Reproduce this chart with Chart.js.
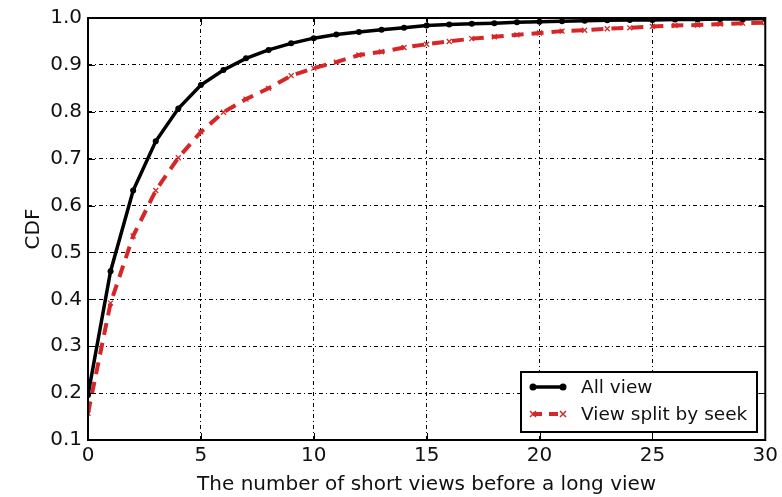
<!DOCTYPE html>
<html>
<head>
<meta charset="utf-8">
<script src="https://cdn.jsdelivr.net/npm/chart.js@4/dist/chart.umd.min.js"></script>
<style>
  html, body { margin: 0; padding: 0; background: #fff; }
  #wrap { width: 782px; height: 497px; }
</style>
</head>
<body>
<div id="wrap"><canvas id="cdf"></canvas></div>
<script>
// short views before a long view, 0..30
const views = [0, 1, 2, 3, 4, 5, 6, 7, 8, 9, 10, 11, 12, 13, 14, 15, 16, 17, 18, 19, 20,
               21, 22, 23, 24, 25, 26, 27, 28, 29, 30];
const allView = [0.196, 0.46, 0.632, 0.737, 0.807, 0.857, 0.889, 0.914, 0.932, 0.946, 0.957,
                 0.965, 0.970, 0.975, 0.979, 0.984, 0.986, 0.988, 0.989, 0.991, 0.992,
                 0.993, 0.994, 0.995, 0.996, 0.996, 0.997, 0.997, 0.998, 0.998, 0.999];
const splitView = [0.157, 0.392, 0.535, 0.632, 0.702, 0.757, 0.799, 0.827, 0.850, 0.877, 0.893,
                   0.906, 0.921, 0.928, 0.937, 0.944, 0.950, 0.956, 0.960, 0.964, 0.968,
                   0.972, 0.974, 0.977, 0.979, 0.982, 0.984, 0.985, 0.987, 0.989, 0.990];
const seriesNames = ['All view', 'View split by seek'];
const xTicks = [0, 5, 10, 15, 20, 25, 30];
const yTicks = [0.1, 0.2, 0.3, 0.4, 0.5, 0.6, 0.7, 0.8, 0.9, 1.0];

Chart.defaults.font.family = "'DejaVu Sans', sans-serif";
Chart.defaults.color = '#111';

const toPoints = ys => views.map((v, i) => ({ x: v, y: ys[i] }));

// frame, inward ticks and the legend box in the lower right
const decorations = {
  id: 'decorations',
  afterDatasetsDraw(chart) {
    const { ctx, chartArea: a, scales: { x, y } } = chart;
    ctx.save();
    ctx.strokeStyle = '#000';
    ctx.lineWidth = 1;
    ctx.setLineDash([]);
    ctx.beginPath();
    xTicks.forEach(t => {
      const px = Math.round(x.getPixelForValue(t)) + 0.5;
      ctx.moveTo(px, a.bottom); ctx.lineTo(px, a.bottom - 7);
      ctx.moveTo(px, a.top); ctx.lineTo(px, a.top + 7);
    });
    yTicks.forEach(t => {
      const py = Math.round(y.getPixelForValue(t)) + 0.5;
      ctx.moveTo(a.left, py); ctx.lineTo(a.left + 7, py);
      ctx.moveTo(a.right, py); ctx.lineTo(a.right - 7, py);
    });
    ctx.stroke();
    ctx.lineWidth = 2;
    ctx.strokeRect(a.left, a.top, a.right - a.left, a.bottom - a.top);

    // legend
    const bx = 521, by = 372, bw = 236, bh = 60;
    ctx.fillStyle = '#fff';
    ctx.fillRect(bx, by, bw, bh);
    ctx.lineWidth = 2;
    ctx.strokeRect(bx, by, bw, bh);
    chart.data.datasets.forEach((ds, i) => {
      const ly = by + 15 + i * 27;
      ctx.strokeStyle = ds.borderColor;
      ctx.lineWidth = ds.borderWidth;
      ctx.setLineDash(ds.borderDash ? [9, 7] : []);
      ctx.beginPath();
      ctx.moveTo(533, ly); ctx.lineTo(563, ly);
      ctx.stroke();
      ctx.setLineDash([]);
      [533, 563].forEach(mx => {
        if (ds.pointStyle === 'crossRot') {
          ctx.lineWidth = 1.5;
          ctx.beginPath();
          ctx.moveTo(mx - 3, ly - 3); ctx.lineTo(mx + 3, ly + 3);
          ctx.moveTo(mx - 3, ly + 3); ctx.lineTo(mx + 3, ly - 3);
          ctx.stroke();
        } else {
          ctx.fillStyle = ds.borderColor;
          ctx.beginPath();
          ctx.arc(mx, ly, 3.5, 0, Math.PI * 2);
          ctx.fill();
        }
      });
      ctx.fillStyle = '#111';
      ctx.font = "18.5px 'DejaVu Sans'";
      ctx.textBaseline = 'middle';
      ctx.fillText(ds.label, 581, ly + 1);
    });
    ctx.restore();
  }
};

new Chart(document.getElementById('cdf'), {
  type: 'line',
  data: {
    datasets: [
      {
        label: seriesNames[0],
        data: toPoints(allView),
        borderColor: '#000',
        backgroundColor: '#000',
        borderWidth: 3.5,
        pointStyle: 'circle',
        pointRadius: 3,
        pointBorderWidth: 0,
        tension: 0
      },
      {
        label: seriesNames[1],
        data: toPoints(splitView),
        borderColor: '#d62728',
        backgroundColor: '#d62728',
        borderWidth: 4,
        borderDash: [12, 8],
        pointStyle: 'crossRot',
        pointRadius: 3.5,
        pointBorderWidth: 1.3,
        tension: 0
      }
    ]
  },
  options: {
    responsive: true,
    maintainAspectRatio: false,
    animation: false,
    layout: { padding: { top: 17, right: 16, left: 0, bottom: 0 } },
    plugins: { legend: { display: false }, tooltip: { enabled: false } },
    scales: {
      x: {
        type: 'linear',
        min: 0,
        max: 30,
        afterBuildTicks: s => { s.ticks = xTicks.map(v => ({ value: v })); },
        afterFit: s => { s.height = 57; },
        ticks: { font: { size: 20 }, padding: 4, maxRotation: 0 },
        grid: { color: '#000', lineWidth: 1, drawTicks: false },
        border: { display: false, dash: [4, 3, 1, 3] },
        title: {
          display: true,
          text: 'The number of short views before a long view',
          font: { size: 20 },
          padding: { top: 0, bottom: 0 }
        }
      },
      y: {
        min: 0.1,
        max: 1.0,
        afterBuildTicks: s => { s.ticks = yTicks.map(v => ({ value: v })); },
        afterFit: s => { s.width = 88; },
        ticks: { font: { size: 20 }, padding: 6, callback: v => v.toFixed(1) },
        grid: { color: '#000', lineWidth: 1, drawTicks: false },
        border: { display: false, dash: [4, 3, 1, 3] },
        title: { display: true, text: 'CDF', font: { size: 20 }, padding: { top: 22, bottom: 0 } }
      }
    }
  },
  plugins: [decorations]
});
</script>
</body>
</html>
